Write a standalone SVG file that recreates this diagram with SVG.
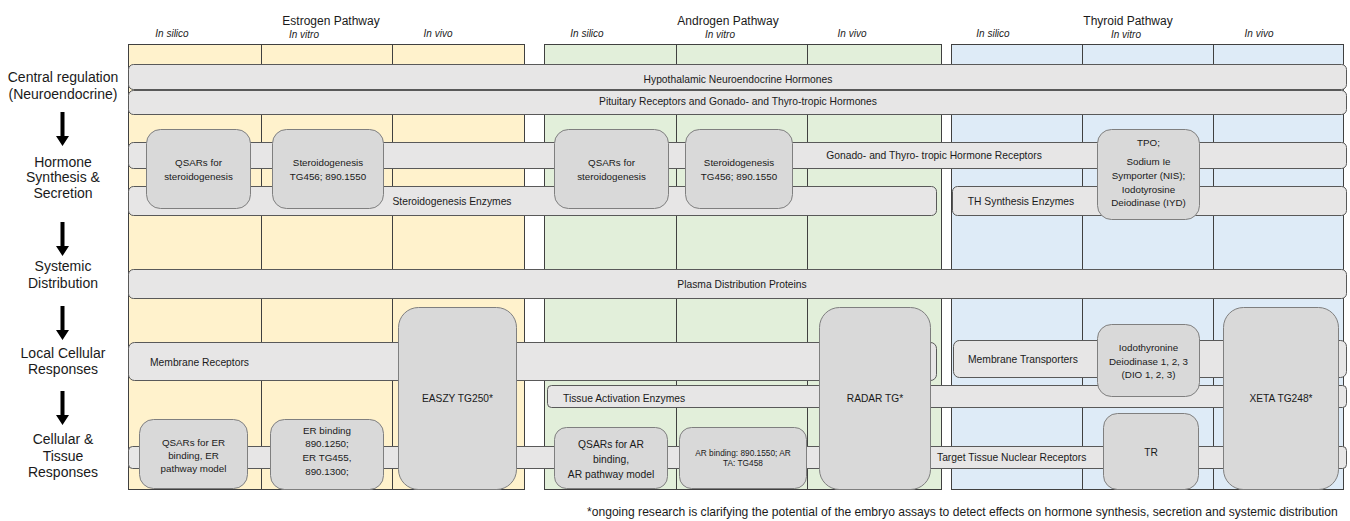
<svg xmlns="http://www.w3.org/2000/svg" width="1350" height="521" viewBox="0 0 1350 521">
<style>
text{font-family:"Liberation Sans",Arial,sans-serif;fill:#1a1a1a}
.lab{font-size:14px;text-anchor:middle}
.hdr{font-size:12px;text-anchor:middle}
.sub{font-size:10px;font-style:italic;text-anchor:middle}
.bt{font-size:10.3px}
.btc{font-size:10.3px;text-anchor:middle}
.xt{font-size:9.8px;text-anchor:middle}
.big{font-size:10.2px;text-anchor:middle}
.cE{fill:#fff2cc;stroke:#404040;stroke-width:1}
.cA{fill:#e2efda;stroke:#404040;stroke-width:1}
.cT{fill:#deebf7;stroke:#404040;stroke-width:1}
.bar{fill:#e7e6e6;stroke:#595959;stroke-width:1}
.box{fill:#d9d9d9;stroke:#7f7f7f;stroke-width:1}
.arr{fill:#000}
</style>
<rect width="1350" height="521" fill="#fff"/>

<g id="estrogen-panel">
<rect class="cE" x="128.5" y="44.5" width="133" height="445"/>
<rect class="cE" x="261.5" y="44.5" width="131" height="445"/>
<rect class="cE" x="392.5" y="44.5" width="132" height="445"/>
<text class="hdr" x="331" y="25">Estrogen Pathway</text>
<text class="sub" x="172" y="37">In silico</text>
<text class="sub" x="304" y="38">In vitro</text>
<text class="sub" x="438" y="37">In vivo</text>
</g>
<g id="androgen-panel">
<rect class="cA" x="544.5" y="44.5" width="132" height="445"/>
<rect class="cA" x="676.5" y="44.5" width="131" height="445"/>
<rect class="cA" x="807.5" y="44.5" width="134" height="445"/>
<text class="hdr" x="728" y="25">Androgen Pathway</text>
<text class="sub" x="587" y="37">In silico</text>
<text class="sub" x="720" y="38">In vitro</text>
<text class="sub" x="852" y="37">In vivo</text>
</g>
<g id="thyroid-panel">
<rect class="cT" x="951.5" y="44.5" width="131" height="445"/>
<rect class="cT" x="1082.5" y="44.5" width="131" height="445"/>
<rect class="cT" x="1213.5" y="44.5" width="130" height="445"/>
<text class="hdr" x="1128" y="25">Thyroid Pathway</text>
<text class="sub" x="993" y="37">In silico</text>
<text class="sub" x="1126" y="38">In vitro</text>
<text class="sub" x="1259" y="37">In vivo</text>
</g>

<g id="row-labels">
<text class="lab" x="63" y="82">Central regulation</text>
<text class="lab" x="63" y="99">(Neuroendocrine)</text>
<text class="lab" x="63" y="167">Hormone</text>
<text class="lab" x="63" y="182">Synthesis &amp;</text>
<text class="lab" x="63" y="198">Secretion</text>
<text class="lab" x="63" y="271">Systemic</text>
<text class="lab" x="63" y="288">Distribution</text>
<text class="lab" x="63" y="358">Local Cellular</text>
<text class="lab" x="63" y="374">Responses</text>
<text class="lab" x="63" y="444">Cellular &amp;</text>
<text class="lab" x="63" y="461">Tissue</text>
<text class="lab" x="63" y="477">Responses</text>
</g>

<g id="connectors">
<polygon class="arr" points="60.5,112 64.5,112 64.5,136 69,136 62.5,146 56,136 60.5,136"/>
<polygon class="arr" points="60.5,222 64.5,222 64.5,246 69,246 62.5,256 56,246 60.5,246"/>
<polygon class="arr" points="60.5,306 64.5,306 64.5,330 69,330 62.5,340 56,330 60.5,330"/>
<polygon class="arr" points="60.5,391 64.5,391 64.5,415 69,415 62.5,425 56,415 60.5,415"/>
</g>

<g id="bar-hypothalamic">
<rect class="bar" x="128.5" y="64.5" width="1218" height="25" rx="5"/>
<text class="btc" x="738" y="82.5">Hypothalamic Neuroendocrine Hormones</text>
</g>
<g id="bar-pituitary">
<rect class="bar" x="128.5" y="90.5" width="1218" height="24" rx="5"/>
<text class="btc" x="738" y="105">Pituitary Receptors and Gonado- and Thyro-tropic Hormones</text>
</g>
<g id="bar-gonado">
<rect class="bar" x="128.5" y="142.5" width="1218" height="26" rx="5"/>
<text class="btc" x="934" y="159">Gonado- and Thyro- tropic Hormone Receptors</text>
</g>
<g id="bar-steroidogenesis-enzymes">
<rect class="bar" x="128.5" y="186.5" width="808" height="29" rx="5"/>
<text class="btc" x="452" y="205">Steroidogenesis Enzymes</text>
</g>
<g id="bar-th-synthesis">
<rect class="bar" x="952.5" y="186.5" width="394" height="29" rx="5"/>
<text class="btc" x="1021" y="205">TH Synthesis Enzymes</text>
</g>
<g id="bar-plasma">
<rect class="bar" x="128.5" y="269.5" width="1218" height="29" rx="5"/>
<text class="btc" x="742" y="288">Plasma Distribution Proteins</text>
</g>
<g id="bar-membrane-receptors">
<rect class="bar" x="128.5" y="342.5" width="808" height="38" rx="6"/>
<text class="bt" x="150" y="366">Membrane Receptors</text>
</g>
<g id="bar-membrane-transporters">
<rect class="bar" x="953.5" y="340.5" width="393" height="37" rx="6"/>
<text class="bt" x="968" y="363">Membrane Transporters</text>
</g>
<g id="bar-tissue-activation">
<rect class="bar" x="547.5" y="385.5" width="799" height="22" rx="4"/>
<text class="bt" x="563" y="401.5">Tissue Activation Enzymes</text>
</g>
<g id="bar-target-tissue">
<rect class="bar" x="128.5" y="446.5" width="1218" height="22" rx="4"/>
<text class="bt" x="937" y="461">Target Tissue Nuclear Receptors</text>
</g>

<g id="box-e-qsar-steroid">
<rect class="box" x="146.5" y="129.5" width="104" height="79" rx="14"/>
<text class="xt" x="198.5" y="166">QSARs for</text>
<text class="xt" x="198.5" y="179.5">steroidogenesis</text>
</g>
<g id="box-e-steroid">
<rect class="box" x="272.5" y="129.5" width="111" height="79" rx="14"/>
<text class="xt" x="328" y="166">Steroidogenesis</text>
<text class="xt" x="328" y="179.5">TG456; 890.1550</text>
</g>
<g id="box-a-qsar-steroid">
<rect class="box" x="554.5" y="129.5" width="114" height="79" rx="14"/>
<text class="xt" x="611.5" y="166">QSARs for</text>
<text class="xt" x="611.5" y="179.5">steroidogenesis</text>
</g>
<g id="box-a-steroid">
<rect class="box" x="685.5" y="129.5" width="107" height="79" rx="14"/>
<text class="xt" x="739" y="166">Steroidogenesis</text>
<text class="xt" x="739" y="179.5">TG456; 890.1550</text>
</g>
<g id="box-tpo">
<rect class="box" x="1097.5" y="129.5" width="102" height="90" rx="14"/>
<text class="xt" x="1148.5" y="146">TPO;</text>
<text class="xt" x="1148.5" y="165">Sodium Ie</text>
<text class="xt" x="1148.5" y="179">Symporter (NIS);</text>
<text class="xt" x="1148.5" y="192.5">Iodotyrosine</text>
<text class="xt" x="1148.5" y="206">Deiodinase (IYD)</text>
</g>
<g id="box-easzy">
<rect class="box" x="398.5" y="307.5" width="118" height="182" rx="20"/>
<text class="big" x="457.5" y="401.5">EASZY TG250*</text>
</g>
<g id="box-radar">
<rect class="box" x="819.5" y="307.5" width="111" height="182" rx="20"/>
<text class="big" x="875" y="401.5">RADAR TG*</text>
</g>
<g id="box-xeta">
<rect class="box" x="1223.5" y="307.5" width="115" height="182" rx="20"/>
<text class="big" x="1281" y="401.5">XETA TG248*</text>
</g>
<g id="box-dio">
<rect class="box" x="1097.5" y="324.5" width="102" height="72" rx="14"/>
<text class="xt" x="1148.5" y="350.5">Iodothyronine</text>
<text class="xt" x="1148.5" y="364.5">Deiodinase 1, 2, 3</text>
<text class="xt" x="1148.5" y="377.5">(DIO 1, 2, 3)</text>
</g>
<g id="box-qsar-er">
<rect class="box" x="139.5" y="419.5" width="108" height="69" rx="14"/>
<text class="xt" x="193.5" y="445.5">QSARs for  ER</text>
<text class="xt" x="193.5" y="458.5">binding,  ER</text>
<text class="xt" x="193.5" y="471.5">pathway model</text>
</g>
<g id="box-er-binding">
<rect class="box" x="270.5" y="419.5" width="113" height="70" rx="14"/>
<text class="xt" x="327" y="433.5">ER binding</text>
<text class="xt" x="327" y="446.5">890.1250;</text>
<text class="xt" x="327" y="460.5">ER TG455,</text>
<text class="xt" x="327" y="474.5">890.1300;</text>
</g>
<g id="box-qsar-ar">
<rect class="box" x="554.5" y="427.5" width="113" height="61" rx="12"/>
<text class="btc" x="611" y="448">QSARs for  AR</text>
<text class="btc" x="611" y="463">binding,</text>
<text class="btc" x="611" y="478">AR pathway model</text>
</g>
<g id="box-ar-binding">
<rect class="box" x="679.5" y="427.5" width="127" height="61" rx="12"/>
<text x="743" y="456" style="font-size:8.3px;text-anchor:middle">AR binding: 890.1550; AR</text>
<text x="743" y="466" style="font-size:8.3px;text-anchor:middle">TA: TG458</text>
</g>
<g id="box-tr">
<rect class="box" x="1103.5" y="413.5" width="95" height="76" rx="14"/>
<text class="big" x="1151" y="456">TR</text>
</g>

<g id="footnote">
<text x="587" y="516" style="font-size:12.1px">*ongoing research is clarifying the potential of the embryo assays to detect effects on hormone synthesis, secretion and systemic distribution</text>
</g>
</svg>
